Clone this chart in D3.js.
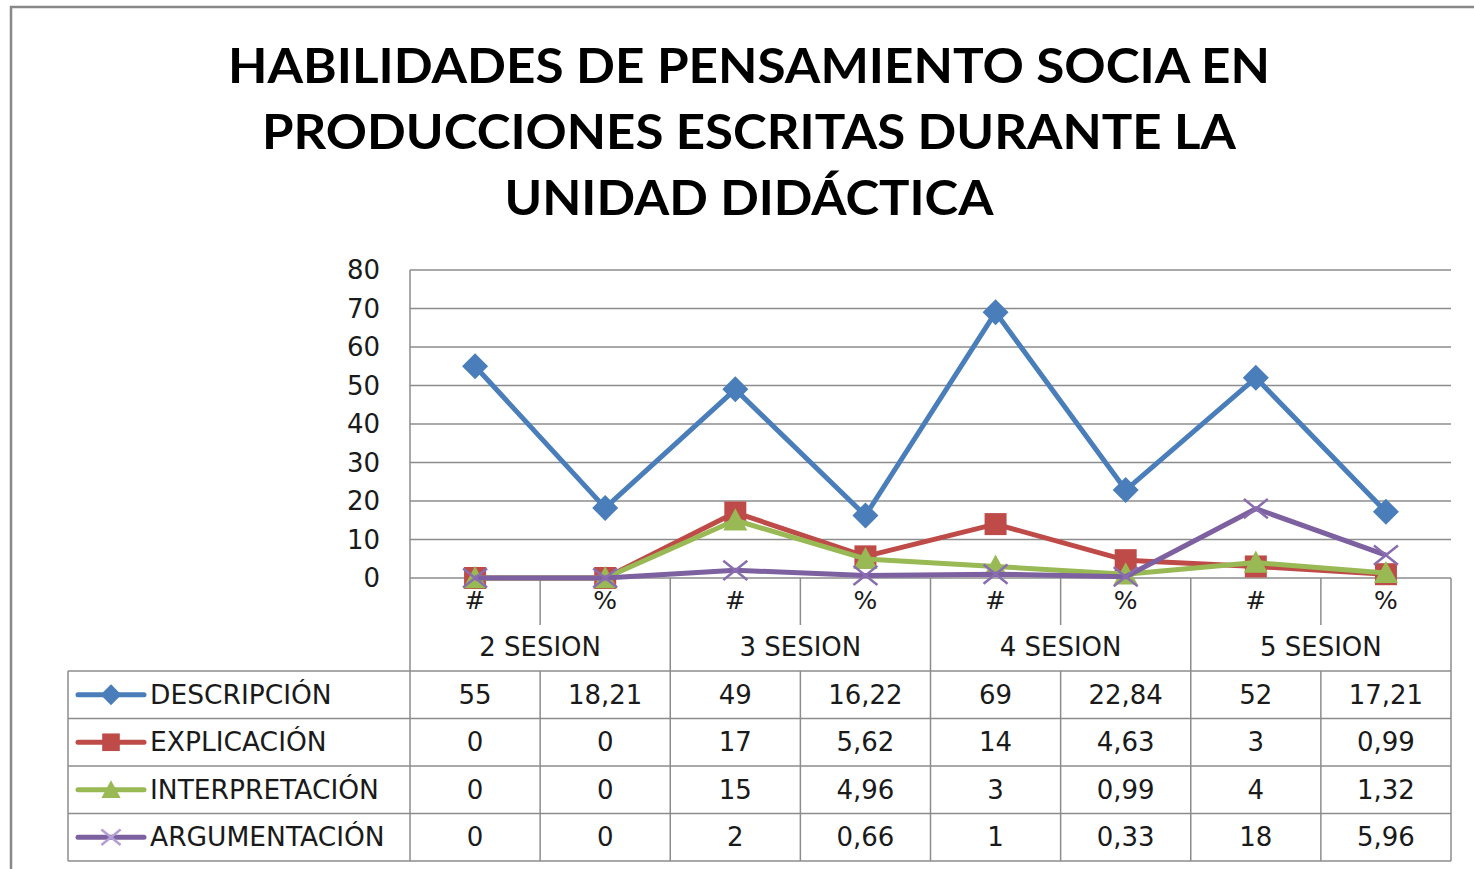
<!DOCTYPE html>
<html>
<head>
<meta charset="utf-8">
<script src="https://cdn.jsdelivr.net/npm/d3@7"></script>
<style>
  body { margin: 0; background: #fff; }
  svg text { font-family: "DejaVu Sans", sans-serif; fill: #1a1a1a; }
</style>
</head>
<body>
<svg id="chart" width="1474" height="869"></svg>
<script>
//
// Data
//
var titleLines = ["HABILIDADES DE PENSAMIENTO SOCIA EN", "PRODUCCIONES ESCRITAS DURANTE LA", "UNIDAD DIDÁCTICA"];
var titleWidths = [1042, 974, 489];
var sessions = ["2 SESION", "3 SESION", "4 SESION", "5 SESION"];
var subLabels = ["#", "%"];
var yTicks = [0, 10, 20, 30, 40, 50, 60, 70, 80];

var seriesNames = ["DESCRIPCIÓN", "EXPLICACIÓN", "INTERPRETACIÓN", "ARGUMENTACIÓN"];
var descripcion = [55, 18.21, 49, 16.22, 69, 22.84, 52, 17.21];
var explicacion = [0, 0, 17, 5.62, 14, 4.63, 3, 0.99];
var interpretacion = [0, 0, 15, 4.96, 3, 0.99, 4, 1.32];
var argumentacion = [0, 0, 2, 0.66, 1, 0.33, 18, 5.96];

var colors = ["#4a7ebb", "#be4b48", "#98b954", "#7d60a0"];
var markers = ["diamond", "square", "triangle", "cross"];

var series = [descripcion, explicacion, interpretacion, argumentacion].map(function(v, i) {
  return { name: seriesNames[i], values: v, color: colors[i], marker: markers[i] };
});

// one category per (session, #/%) pair
var categories = [];
sessions.forEach(function(s) {
  subLabels.forEach(function(l) { categories.push({ session: s, label: l, key: s + l }); });
});

//
// Layout
//
var plotLeft = 410, plotRight = 1451, plotTop = 270, zeroY = 578;
var headerBottom = 671, rowH = 47.5, tableLeft = 68;
var gridColor = "#8c8c8c";

var svg = d3.select("#chart");

var x = d3.scaleBand().domain(categories.map(function(c) { return c.key; })).range([plotLeft, plotRight]);
var xs = d3.scaleBand().domain(sessions).range([plotLeft, plotRight]);
var y = d3.scaleLinear().domain([0, 80]).range([zeroY, plotTop]);
var row = d3.scaleBand().domain(seriesNames).range([headerBottom, headerBottom + rowH * 4]);

function cx(i) { return x(categories[i].key) + x.bandwidth() / 2; }

// outer frame
svg.append("path")
  .attr("d", "M11,880 L11,7 L1480,7")
  .attr("fill", "none").attr("stroke", "#888").attr("stroke-width", 2.5);

// title
svg.append("g").selectAll("text").data(titleLines).join("text")
  .attr("x", 749)
  .attr("y", function(d, i) { return 83 + i * 66; })
  .attr("text-anchor", "middle")
  .attr("textLength", function(d, i) { return titleWidths[i]; })
  .attr("lengthAdjust", "spacingAndGlyphs")
  .attr("font-size", 48).attr("font-weight", "bold")
  .style("font-family", "Lato, sans-serif")
  .style("fill", "#000")
  .text(function(d) { return d; });

// gridlines
svg.append("g").selectAll("line").data(yTicks).join("line")
  .attr("x1", plotLeft).attr("x2", plotRight)
  .attr("y1", function(d) { return y(d); }).attr("y2", function(d) { return y(d); })
  .attr("stroke", gridColor).attr("stroke-width", 1.5);

// y labels
svg.append("g").selectAll("text").data(yTicks).join("text")
  .attr("x", 380).attr("y", function(d) { return y(d) + 9; })
  .attr("text-anchor", "end").attr("font-size", 26)
  .text(function(d) { return d; });

//
// Data table
//
var tableBottom = headerBottom + rowH * 4;
var g = svg.append("g").attr("stroke", gridColor).attr("stroke-width", 1.5);

// session boundaries (full height)
sessions.concat(["end"]).forEach(function(s) {
  var xx = s == "end" ? plotRight : xs(s);
  g.append("line").attr("x1", xx).attr("x2", xx).attr("y1", s == sessions[0] ? plotTop : zeroY).attr("y2", tableBottom);
});
// small ticks between # and % in header, then full lines in rows
sessions.forEach(function(s) {
  var xx = xs(s) + xs.bandwidth() / 2;
  g.append("line").attr("x1", xx).attr("x2", xx).attr("y1", zeroY).attr("y2", 625);
  g.append("line").attr("x1", xx).attr("x2", xx).attr("y1", headerBottom).attr("y2", tableBottom);
});
// row lines
[0, 1, 2, 3, 4].forEach(function(i) {
  var yy = headerBottom + i * rowH;
  g.append("line").attr("x1", tableLeft).attr("x2", plotRight).attr("y1", yy).attr("y2", yy);
});
g.append("line").attr("x1", tableLeft).attr("x2", tableLeft).attr("y1", headerBottom).attr("y2", tableBottom);

// category labels
svg.append("g").selectAll("text").data(categories).join("text")
  .attr("x", function(d, i) { return cx(i); }).attr("y", 609)
  .attr("text-anchor", "middle").attr("font-size", 25)
  .text(function(d) { return d.label; });

svg.append("g").selectAll("text").data(sessions).join("text")
  .attr("x", function(d) { return xs(d) + xs.bandwidth() / 2; }).attr("y", 656)
  .attr("text-anchor", "middle").attr("font-size", 26)
  .text(function(d) { return d; });

// table values
function fmt(v) { return String(v).replace(".", ","); }
series.forEach(function(s) {
  var yy = row(s.name) + row.bandwidth() / 2 + 9;
  svg.append("g").selectAll("text").data(s.values).join("text")
    .attr("x", function(d, i) { return cx(i); }).attr("y", yy)
    .attr("text-anchor", "middle").attr("font-size", 26)
    .text(fmt);
  svg.append("text").attr("x", 150).attr("y", yy).attr("font-size", 26.5).text(s.name);
});

//
// Markers
//
function drawMarker(sel, type, color, sc) {
  sc = sc || 1;
  if (type == "diamond") {
    var r = 13 * sc;
    sel.append("path").attr("d", "M0," + (-r) + "L" + r + ",0L0," + r + "L" + (-r) + ",0Z").attr("fill", color);
  } else if (type == "square") {
    var h = 11 * sc;
    sel.append("rect").attr("x", -h).attr("y", -h).attr("width", 2 * h).attr("height", 2 * h).attr("fill", color);
  } else if (type == "triangle") {
    var t = 12 * sc;
    sel.append("path").attr("d", "M0," + (-t) + "L" + t + "," + (t * 0.85) + "L" + (-t) + "," + (t * 0.85) + "Z").attr("fill", color);
  } else {
    var c = 12 * sc;
    sel.append("path").attr("d", "M" + (-c) + "," + (-c * 0.8) + "L" + c + "," + (c * 0.8) + "M" + (-c) + "," + (c * 0.8) + "L" + c + "," + (-c * 0.8))
      .attr("stroke", color).attr("stroke-width", 2.5).attr("fill", "none");
  }
}

var line = d3.line()
  .x(function(d, i) { return cx(i); })
  .y(function(d) { return y(d); });

series.forEach(function(s) {
  var sg = svg.append("g");
  sg.append("path").attr("d", line(s.values))
    .attr("fill", "none").attr("stroke", s.color).attr("stroke-width", 5)
    .attr("stroke-linejoin", "round");
  s.values.forEach(function(v, i) {
    var m = sg.append("g").attr("transform", "translate(" + cx(i) + "," + y(v) + ")");
    drawMarker(m, s.marker, s.marker == "cross" ? "#8a6db0" : s.color);
  });

  // legend key inside the table
  var ly = row(s.name) + row.bandwidth() / 2;
  var lg = svg.append("g");
  lg.append("line").attr("x1", 78).attr("x2", 144).attr("y1", ly).attr("y2", ly)
    .attr("stroke", s.color).attr("stroke-width", 5).attr("stroke-linecap", "round");
  drawMarker(lg.append("g").attr("transform", "translate(111," + ly + ")"), s.marker, s.marker == "cross" ? "#b49fd4" : s.color, 0.8);
});
</script>
</body>
</html>
